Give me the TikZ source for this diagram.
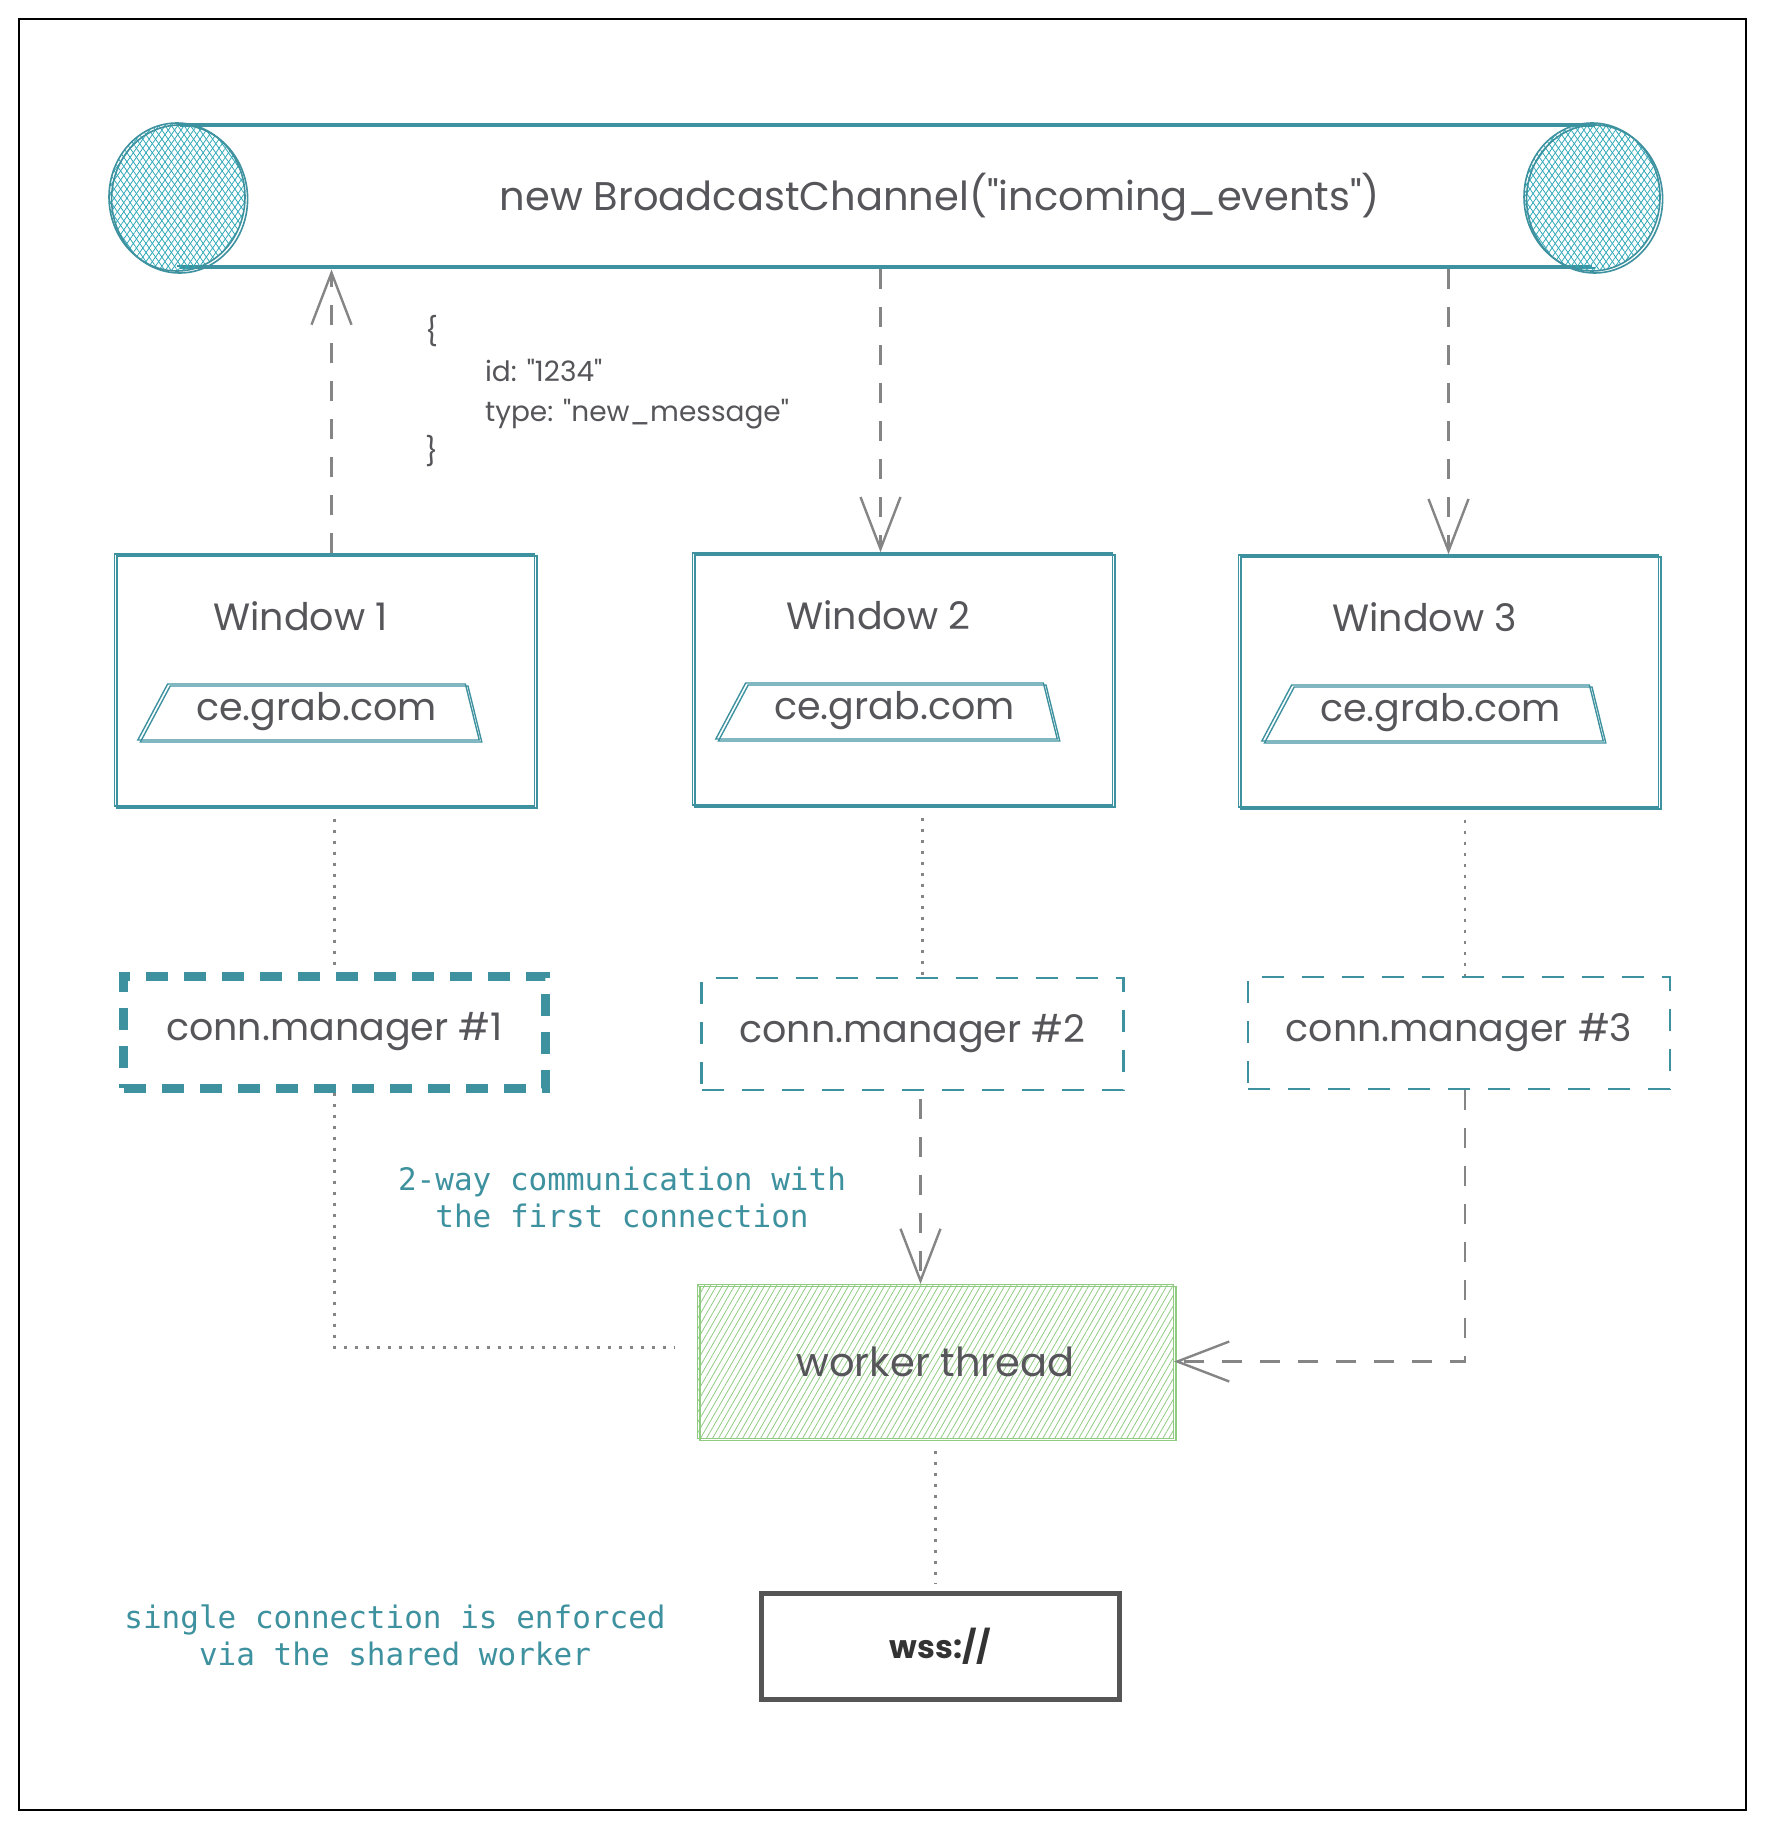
\documentclass[tikz,border=0pt]{standalone}
\usepackage{fontspec}
\setmainfont{Poppins}[Ligatures=TeXOff]
\setmonofont{DejaVu Sans Mono}
\usepackage{xcolor}
\usepackage{tikz}
\usetikzlibrary{arrows.meta,positioning,shapes.geometric,patterns.meta}
\definecolor{bcteal}{HTML}{3E919E}
\definecolor{bchatch}{HTML}{2FA8B8}
\definecolor{bctext}{HTML}{55555A}
\definecolor{bcgray}{HTML}{858585}
\definecolor{bcgreen}{HTML}{8FCB80}
\definecolor{bcdark}{HTML}{555555}

\begin{document}
\begin{tikzpicture}[
    x=0.5pt, y=-0.5pt,
    handtext/.style={text=bctext, font=\fontsize{19}{23}\selectfont},
    sketch/.style={postaction={draw, transform canvas={xshift=1.3pt, yshift=-1pt}}},
    winbox/.style={draw=bcteal, line width=0.7pt, sketch, minimum width=210pt, minimum height=126pt},
    urlbox/.style={trapezium, trapezium stretches=true, trapezium left angle=60, trapezium right angle=75, draw=bcteal, line width=0.7pt, sketch, minimum width=171pt, minimum height=28pt, inner sep=1pt, handtext},
    connbox/.style={draw=bcteal, line width=1.4pt, dash pattern=on 11pt off 9pt, minimum width=211pt, minimum height=56pt, handtext},
    workbox/.style={draw=bcgreen, line width=0.9pt, sketch, pattern={Lines[angle=60,distance=2.6pt,line width=0.4pt]}, pattern color=bcgreen, minimum width=238pt, minimum height=77pt, handtext, font=\fontsize{20}{24}\selectfont},
    wssbox/.style={draw=bcdark, line width=2.4pt, minimum width=179pt, minimum height=53pt, text=black!80, font=\bfseries\fontsize{16}{20}\selectfont},
    caption/.style={text=bcteal, align=center, font=\ttfamily\fontsize{15.5}{18.5}\selectfont},
    arrow/.style={-{Straight Barb[length=26pt,width=20pt]}, line width=1.2pt, draw=bcgray, dash pattern=on 10pt off 9pt},
    dotline/.style={line width=1.1pt, draw=bcgray, dash pattern=on 1.5pt off 4pt},
    chanline/.style={draw=bcteal, line width=0.8pt, sketch}
  ]
    \useasboundingbox (0,0) rectangle (1766,1830);
    \draw[line width=0.9pt] (19,19) rectangle (1746,1810);

    % broadcast channel
    \draw[chanline] (177,124) -- (1592,124);
    \draw[chanline] (177,266) -- (1592,266);
    \foreach \cx in {177,1592}{
      \fill[pattern={Lines[angle=55,distance=2.6pt,line width=0.4pt]}, pattern color=bchatch] (\cx,197) ellipse [x radius=68, y radius=74];
      \fill[pattern={Lines[angle=-55,distance=2.6pt,line width=0.4pt]}, pattern color=bchatch] (\cx,197) ellipse [x radius=68, y radius=74];
      \draw[bcteal, line width=0.8pt, sketch] (\cx,197) ellipse [x radius=68, y radius=74];
    }
    \node[handtext, font=\fontsize{20}{24}\selectfont, minimum height=72pt] (chan) at (940,197) {new BroadcastChannel("incoming\_events")};

    % message payload
    \node[handtext, font=\fontsize{14}{20}\selectfont, align=left, anchor=north west] (msg) at (418,308)
      {\{\\\hspace*{30pt}id: "1234"\\\hspace*{30pt}type: "new\_message"\\\}};

    % windows
    \node[winbox] (w1) at (324.5,680) {};
    \node[winbox] (w2) at (902.5,679) {};
    \node[winbox] (w3) at (1448.5,681) {};
    \foreach \i in {1,2,3}{
      \node[handtext] (t\i) at ([xshift=-12pt,yshift=32pt]w\i.center) {Window \i};
      \node[urlbox] (u\i) at ([xshift=-4pt,yshift=-16pt]w\i.center) {ce.grab.com};
    }

    % connection managers
    \node[connbox, line width=4.5pt, dash pattern=on 11pt off 8pt] (c1) at (334.5,1032) {conn.manager \#1};
    \node[connbox] (c2) at (912.5,1034) {conn.manager \#2};
    \node[connbox] (c3) at (1459,1033) {conn.manager \#3};

    \node[workbox] (wk) at (935.5,1361.5) {worker thread};
    \node[wssbox] (ws) at (940.5,1646.5) {wss://};

    \node[caption] (cap1) at (622,1197) {2-way communication with\\the first connection};
    \node[caption] (cap2) at (395,1635) {single connection is enforced\\via the shared worker};

    % connectors
    \draw[arrow] ([xshift=3.5pt]w1.north) -- ([xshift=3.5pt]w1.north |- chan.south);
    \draw[arrow] ([xshift=-11pt]w2.north |- chan.south) -- ([xshift=-11pt]w2.north);
    \draw[arrow] (w3.north |- chan.south) -- (w3.north);
    \draw[dotline, shorten <=6pt] (w1.south -| c1.north) -- (c1.north);
    \draw[dotline, shorten <=6pt] ([xshift=5pt]w2.south -| c2.north) -- ([xshift=5pt]c2.north);
    \draw[dotline, shorten <=6pt] ([xshift=3pt]w3.south -| c3.north) -- ([xshift=3pt]c3.north);
    \draw[dotline] (c1.south) |- ([xshift=-11pt,yshift=7pt]wk.west);
    \draw[arrow, shorten <=4pt] ([xshift=4pt]c2.south) -- ([xshift=4pt]c2.south |- wk.north);
    \draw[arrow] ([xshift=3pt]c3.south) |- (wk.east);
    \draw[dotline, shorten <=6pt, shorten >=4pt] (wk.south) -- (wk.south |- ws.north);
\end{tikzpicture}
\end{document}
